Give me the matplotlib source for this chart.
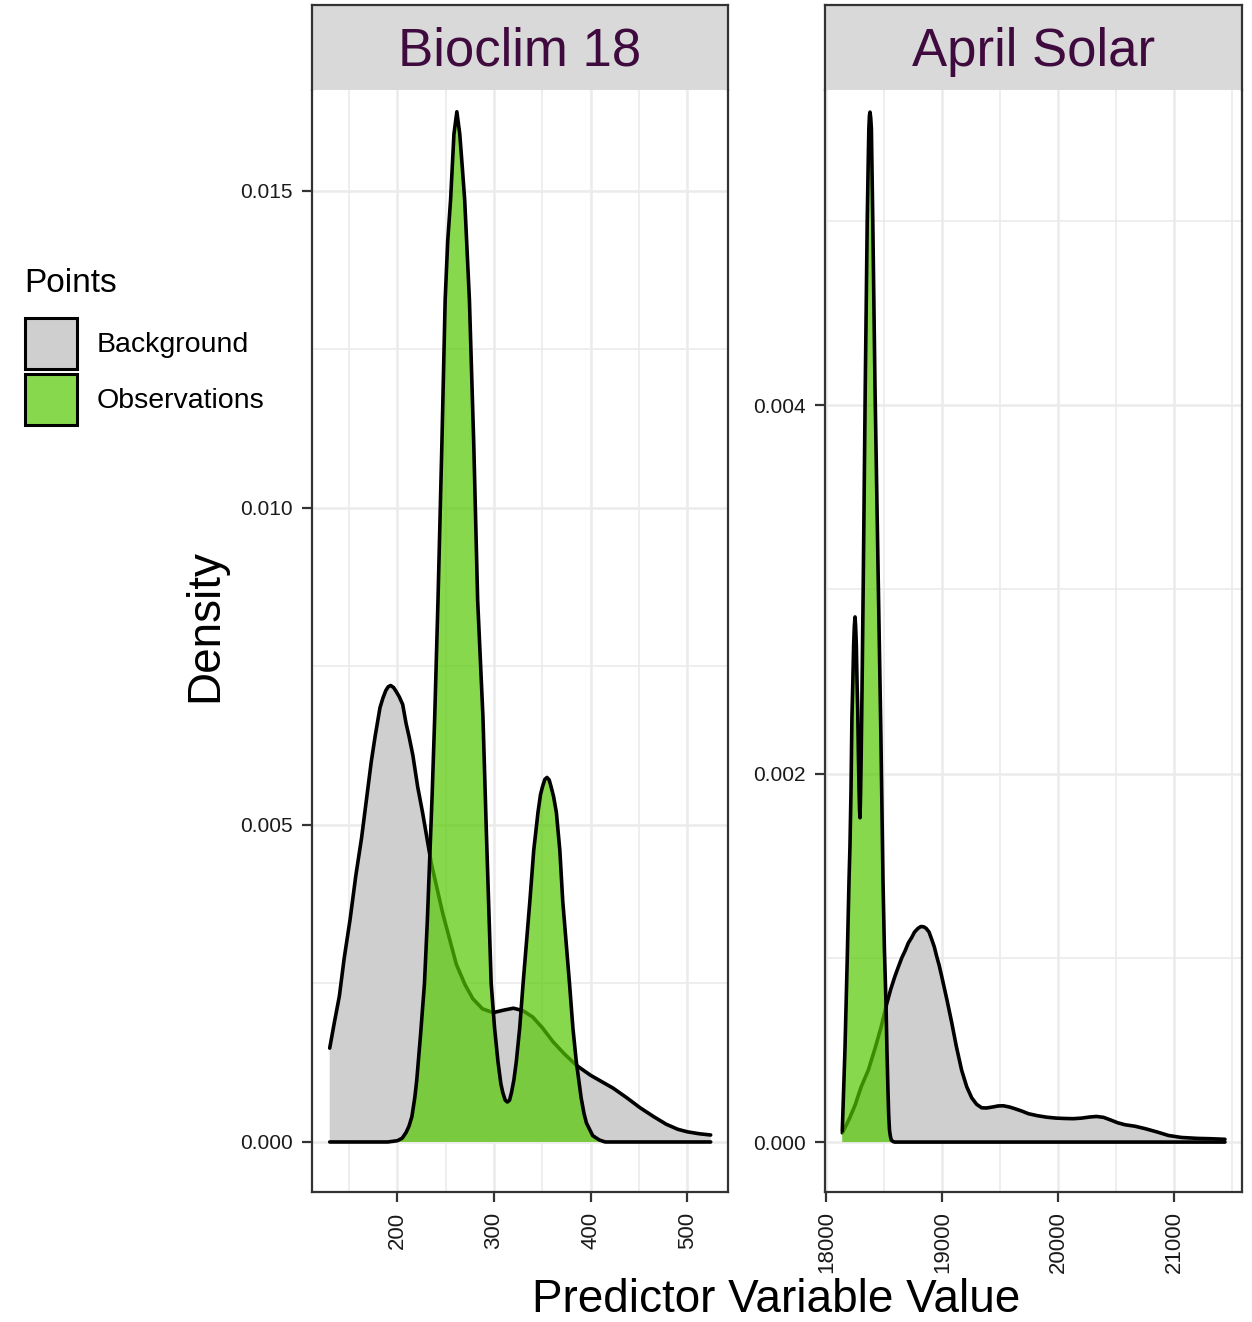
import matplotlib
matplotlib.use('Agg')
import matplotlib.pyplot as plt
from matplotlib.patches import Rectangle
from matplotlib.colors import to_rgba

plt.rcParams['font.family'] = ['Liberation Sans', 'DejaVu Sans']

# ---------------- data ----------------
panels = ['Bioclim 18', 'April Solar']
groups = ['Background', 'Observations']

# Bioclim 18 - background density
bio_bg_x = [130, 135, 140, 145, 151, 157, 163, 168, 173, 177, 182, 185, 188, 190.5, 193, 196, 199,
            202, 205.5, 209, 212, 216, 221, 226, 235, 241, 247, 254, 261, 270, 278, 288, 299,
            310, 320, 330, 340, 350, 361, 372, 385, 400, 423, 437, 451, 465, 478, 490, 500, 512, 524]
bio_bg_d = [0.00148, 0.0019, 0.0023, 0.0029, 0.0035, 0.0042, 0.0048, 0.0054, 0.0060, 0.0064, 0.00685,
            0.0070, 0.00712, 0.00718, 0.0072, 0.00717, 0.00710, 0.00702, 0.0069, 0.0066, 0.0064,
            0.0061, 0.0056, 0.0052, 0.0044, 0.0040, 0.0036, 0.0032, 0.0028, 0.00248, 0.00226,
            0.00210, 0.00204, 0.00208, 0.00211, 0.00207, 0.00197, 0.0018, 0.00158, 0.00140,
            0.00121, 0.00105, 0.00085, 0.00070, 0.00054, 0.00040, 0.00028, 0.00020, 0.00016,
            0.00013, 0.00011]

# Bioclim 18 - observation density
bio_ob_x = [130, 190, 200, 205, 209, 212, 215, 218, 220, 224, 228, 231, 233, 236, 238.6, 242, 246,
            249.4, 252, 255, 258.5, 261.5, 264.5, 267, 269.6, 274.5, 279, 283, 288.5, 292, 297,
            300.5, 304, 307, 309, 311.5, 313.7, 316, 318, 320.5, 323, 326.5, 330, 337, 341, 345.4,
            348, 350, 352.5, 354.7, 357, 359, 361.5, 364.4, 368, 371, 378, 381.5, 385, 388, 390,
            393, 395.5, 402, 409, 415, 524]
bio_ob_d = [0.0, 0.0, 0.00002, 0.00006, 0.00015, 0.00025, 0.0004, 0.0007, 0.00097, 0.0017, 0.0025,
            0.0035, 0.0043, 0.0055, 0.0067, 0.00855, 0.0110, 0.01328, 0.0142, 0.01486, 0.0159,
            0.01625, 0.0159, 0.0154, 0.01486, 0.01328, 0.0110, 0.00855, 0.0067, 0.0049, 0.0025,
            0.0018, 0.00127, 0.00092, 0.00078, 0.00066, 0.00063, 0.00066, 0.00078, 0.00098,
            0.00127, 0.0018, 0.0025, 0.0038, 0.0046, 0.0052, 0.00548, 0.0056, 0.00572, 0.00575,
            0.00571, 0.0056, 0.00545, 0.0052, 0.0046, 0.0038, 0.0025, 0.0018, 0.00127, 0.00093,
            0.0007, 0.00045, 0.0003, 0.0001, 0.00003, 0.0, 0.0]

# April Solar - background density
sol_bg_x = [18137, 18170, 18200, 18247, 18300, 18361, 18420, 18470, 18520, 18555, 18591, 18620,
            18650, 18680, 18706, 18735, 18760, 18790, 18815, 18840, 18860, 18885, 18908, 18930,
            18950, 18972, 18994, 19040, 19080, 19120, 19166, 19210, 19253, 19295, 19339, 19380,
            19430, 19480, 19525, 19580, 19630, 19690, 19741, 19820, 19900, 19980, 20057, 20130,
            20200, 20270, 20330, 20390, 20450, 20510, 20574, 20660, 20747, 20850, 20948, 21060,
            21200, 21320, 21436]
sol_bg_d = [0.00005, 0.00009, 0.00013, 0.0002, 0.0003, 0.00039, 0.00051, 0.00062, 0.00075, 0.00083,
            0.0009, 0.00095, 0.00100, 0.00104, 0.00108, 0.00111, 0.00114, 0.00116, 0.00117,
            0.001168, 0.00116, 0.00114, 0.0011, 0.00106, 0.00101, 0.00096, 0.0009, 0.00077,
            0.00065, 0.00052, 0.00039, 0.0003, 0.00024, 0.000205, 0.000186, 0.000185, 0.00019,
            0.000196, 0.000197, 0.00019, 0.00018, 0.000167, 0.000154, 0.000143, 0.000135,
            0.00013, 0.000128, 0.000127, 0.00013, 0.000136, 0.000139, 0.000134, 0.00012,
            0.000105, 0.000094, 0.000086, 0.000073, 0.000055, 0.000036, 0.000025, 0.00002,
            0.000018, 0.000015]

# April Solar - observation density
sol_ob_x = [18137, 18160, 18180, 18195, 18203, 18212, 18220, 18228, 18235, 18241, 18247, 18252,
            18258, 18264, 18270, 18276, 18282, 18286, 18290, 18295, 18300, 18310, 18318, 18335,
            18352, 18360, 18366, 18371, 18376, 18382, 18388, 18400, 18419, 18447, 18470, 18488,
            18500, 18514, 18522, 18530, 18537, 18544, 18552, 18560, 18575, 18590, 21436]
sol_ob_d = [0.00006, 0.0005, 0.0010, 0.00142, 0.0016, 0.0019, 0.0023, 0.0025, 0.0027, 0.0028,
            0.00285, 0.0028, 0.0027, 0.0025, 0.00235, 0.0021, 0.0019, 0.0018, 0.00176, 0.0019,
            0.0021, 0.0026, 0.00305, 0.0041, 0.0050, 0.0053, 0.0055, 0.00557, 0.00559, 0.00556,
            0.0055, 0.0050, 0.0041, 0.00305, 0.0022, 0.00142, 0.00105, 0.00075, 0.0005, 0.0003,
            0.00015, 0.000065, 0.00003, 0.00001, 0.000003, 0.0, 0.0]

# axis ticks
bio_xticks = [200, 300, 400, 500]
bio_xminor = [150, 250, 350, 450]
bio_yticks = [0.000, 0.005, 0.010, 0.015]
bio_yminor = [0.0025, 0.0075, 0.0125]
sol_xticks = [18000, 19000, 20000, 21000]
sol_xminor = [18500, 19500, 20500, 21500]
sol_yticks = [0.000, 0.002, 0.004]
sol_yminor = [0.001, 0.003, 0.005]

# ---------------- styling ----------------
W, H = 1252, 1322
fig = plt.figure(figsize=(W / 100, H / 100), dpi=100)

BG_FILL = '#CFCFCF'
OB_FILL = to_rgba('#55C800', 0.7)
STRIP_TEXT = '#3F0A3D'
BORDER = '#333333'
GRID = '#EBEBEB'
LW = 2.6

def fx(px):
    return px / W

def fy(py):
    return 1 - py / H

specs = [
    dict(title=panels[0], l=312, r=728, xlim=(111.7, 541.9), ylim=(-0.000789, 0.016593),
         bgx=bio_bg_x, bgd=bio_bg_d, obx=bio_ob_x, obd=bio_ob_d,
         xt=bio_xticks, xm=bio_xminor, yt=bio_yticks, ym=bio_yminor, yfmt='{:.3f}'),
    dict(title=panels[1], l=825, r=1242, xlim=(17988, 21583), ylim=(-0.000271, 0.00571),
         bgx=sol_bg_x, bgd=sol_bg_d, obx=sol_ob_x, obd=sol_ob_d,
         xt=sol_xticks, xm=sol_xminor, yt=sol_yticks, ym=sol_yminor, yfmt='{:.3f}'),
]

top_strip, top_panel, bottom = 5, 90, 1192

for s in specs:
    ax = fig.add_axes([fx(s['l']), fy(bottom), (s['r'] - s['l']) / W, (bottom - top_panel) / H])
    ax.set_xlim(*s['xlim'])
    ax.set_ylim(*s['ylim'])
    ax.set_facecolor('white')
    ax.set_xticks(s['xt'])
    ax.set_xticklabels([str(v) for v in s['xt']], rotation=90, fontsize=16)
    ax.set_xticks(s['xm'], minor=True)
    ax.set_yticks(s['yt'])
    ax.set_yticklabels([s['yfmt'].format(v) for v in s['yt']], fontsize=15)
    ax.set_yticks(s['ym'], minor=True)
    ax.grid(which='major', color=GRID, lw=1.8, zorder=0)
    ax.grid(which='minor', color=GRID, lw=1.2, zorder=0)
    ax.set_axisbelow(True)
    ax.tick_params(which='major', length=7, width=1.6, color=BORDER, pad=7, labelcolor='#1a1a1a')
    ax.tick_params(which='minor', length=0)
    for side in ['left', 'right', 'bottom']:
        ax.spines[side].set_color(BORDER)
        ax.spines[side].set_linewidth(1.6)
    ax.spines['top'].set_visible(False)

    ax.fill_between(s['bgx'], 0, s['bgd'], facecolor=BG_FILL, lw=0, zorder=2)
    ax.plot(s['bgx'], s['bgd'], color='black', lw=LW, zorder=3,
            solid_capstyle='round', solid_joinstyle='round')
    ax.fill_between(s['obx'], 0, s['obd'], facecolor=OB_FILL, lw=0, zorder=4)
    ax.plot(s['obx'], s['obd'], color='black', lw=LW, zorder=5,
            solid_capstyle='round', solid_joinstyle='round')

    sax = fig.add_axes([fx(s['l']), fy(top_panel), (s['r'] - s['l']) / W, (top_panel - top_strip) / H])
    sax.set_facecolor('#D9D9D9')
    sax.set_xticks([])
    sax.set_yticks([])
    for side in ['left', 'right', 'top']:
        sax.spines[side].set_color(BORDER)
        sax.spines[side].set_linewidth(1.6)
    sax.spines['bottom'].set_visible(False)
    sax.text(0.5, 0.45, s['title'], ha='center', va='center', fontsize=38, color=STRIP_TEXT,
             transform=sax.transAxes)

# axis titles
fig.text(fx(205), fy(626), 'Density', rotation=90, ha='center', va='center', fontsize=33)
fig.text(fx(776), fy(1300), 'Predictor Variable Value', ha='center', va='center', fontsize=33)

# legend
fig.text(fx(24), fy(283), 'Points', ha='left', va='center', fontsize=24)
key_colors = [BG_FILL, OB_FILL]
key_tops = [318, 374]
label_y = [345, 401]
for g, c, t, ly in zip(groups, key_colors, key_tops, label_y):
    fig.add_artist(Rectangle((fx(25), fy(t + 51)), 52 / W, 51 / H, facecolor=c,
                             edgecolor='black', lw=2.2, transform=fig.transFigure))
    fig.text(fx(97), fy(ly), g, ha='left', va='center', fontsize=20.5)

fig.savefig('out.png', dpi=100, facecolor='white')
